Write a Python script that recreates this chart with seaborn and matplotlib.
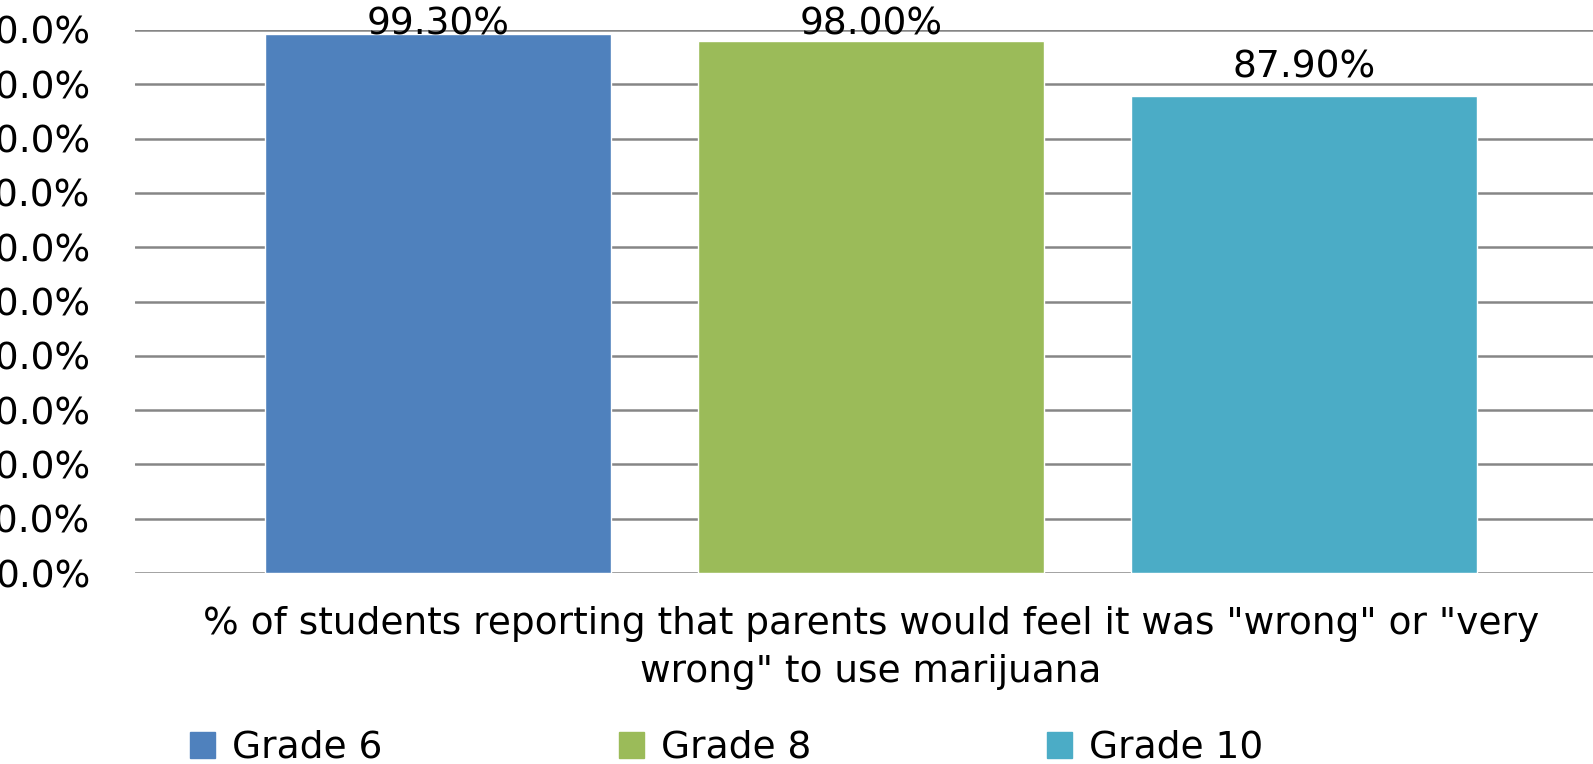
import pandas as pd
import seaborn as sns
import matplotlib.pyplot as plt
from matplotlib.ticker import PercentFormatter

# --- data ---
grades = ["Grade 6", "Grade 8", "Grade 10"]
pct_values = [99.30, 98.00, 87.90]
bar_colors = ["#4F81BD", "#9BBB59", "#4BACC6"]
x_label = '% of students reporting that parents would feel it was "wrong" or "very\nwrong" to use marijuana'
y_ticks = [0, 10, 20, 30, 40, 50, 60, 70, 80, 90, 100]

df = pd.DataFrame({"grade": grades, "pct": pct_values})

sns.set_style("white")
plt.rcParams["font.family"] = ["DejaVu Sans"]
FS = 27

fig = plt.figure(figsize=(15.93, 7.64), dpi=100)
# axes runs slightly past the right edge, like the cropped original
ax = fig.add_axes([135 / 1593, 191 / 764, 1472 / 1593, 543 / 764])

sns.barplot(data=df, x="grade", y="pct", hue="grade", order=grades, hue_order=grades,
            palette=bar_colors, width=0.8, saturation=1, legend=False, ax=ax)

ax.set_xlim(-0.70, 2.70)
ax.set_ylim(0, 100)
ax.set_yticks(y_ticks)
ax.yaxis.set_major_formatter(PercentFormatter(decimals=1))
ax.tick_params(axis="y", length=0, pad=32, labelsize=FS, labelcolor="black")
ax.set_xticks([])
ax.grid(axis="y", color="#868686", linewidth=1.8)
ax.set_axisbelow(True)
for s in ax.spines.values():
    s.set_visible(False)

# value labels above the bars, pushed down when they'd run off the top (as Excel does)
for bar, v in zip(ax.patches, pct_values):
    ax.text(bar.get_x() + bar.get_width() / 2, min(v + 3.35, 99.1), f"{v:.2f}%",
            ha="center", va="baseline", fontsize=FS, color="black", clip_on=False)

ax.set_xlabel(x_label, fontsize=FS, labelpad=24, linespacing=1.43, color="black")

handles = [plt.Rectangle((0, 0), 1, 1, color=c) for c in bar_colors]
fig.legend(handles, grades, loc="center left", bbox_to_anchor=(190 / 1593, 1 - 748 / 764),
           ncol=3, frameon=False, fontsize=FS, handlelength=0.67, handleheight=0.67,
           handletextpad=0.45, columnspacing=6.3, borderpad=0, borderaxespad=0,
           labelcolor="black")

fig.savefig("out.png", dpi=100)
